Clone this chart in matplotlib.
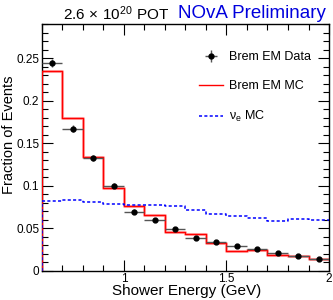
import numpy as np
import matplotlib
matplotlib.use("Agg")
import matplotlib.pyplot as plt
from matplotlib.ticker import MultipleLocator

plt.rcParams['font.family'] = ['Liberation Sans', 'DejaVu Sans']
plt.rcParams['mathtext.fontset'] = 'custom'
plt.rcParams['mathtext.rm'] = 'Liberation Sans'
plt.rcParams['mathtext.it'] = 'Liberation Sans:italic'

bin_edges = [0.6, 0.7, 0.8, 0.9, 1.0, 1.1, 1.2, 1.3, 1.4, 1.5, 1.6, 1.7, 1.8, 1.9, 2.0]
data_vals = [0.244, 0.167, 0.133, 0.100, 0.0696, 0.0594, 0.049, 0.039, 0.034,
             0.0295, 0.0256, 0.0212, 0.0173, 0.0138]
data_yerr = [0.005, 0.004, 0.0035, 0.003, 0.0025, 0.0022, 0.002, 0.0018, 0.0017,
             0.0016, 0.0015, 0.0014, 0.0013, 0.0012]
mc_vals = [0.235, 0.179, 0.134, 0.0975, 0.0755, 0.065, 0.045, 0.043, 0.033,
           0.0232, 0.0248, 0.018, 0.0173, 0.0134]
nue_vals = [0.0816, 0.0834, 0.081, 0.079, 0.0775, 0.0775, 0.0765, 0.0708, 0.0672,
            0.0649, 0.0625, 0.059, 0.061, 0.0594]

edges = np.array(bin_edges)
centers = 0.5 * (edges[:-1] + edges[1:])
halfw = 0.5 * np.diff(edges)

fig = plt.figure(figsize=(3.33, 3.0), dpi=100)
ax = fig.add_axes([0.126, 0.0977, 0.862, 0.822])

def step_xy(vals):
    y = np.r_[vals, vals[-1]]
    return edges, y

x, y = step_xy(mc_vals)
ax.step(x, y, where='post', color='#ff8080', lw=2.2, alpha=0.6, zorder=2)
ax.step(x, y, where='post', color='red', lw=1.0, zorder=3, label='Brem EM MC')
ax.plot([edges[0], edges[0]], [0, mc_vals[0]], color='red', lw=1.0, zorder=3)

x2, y2 = step_xy(nue_vals)
ax.step(x2, y2, where='post', color='blue', lw=1.1, ls=(0, (2, 1.5)), zorder=3,
        label=r'ν$_{\mathrm{e}}$ MC')
ax.plot([edges[0], edges[0]], [0, nue_vals[0]], color='blue', lw=1.1,
        ls=(0, (2, 1.5)), zorder=3)

ax.errorbar(centers, data_vals, xerr=halfw, yerr=data_yerr, fmt='o', ms=3.5,
            color='black', ecolor='#555555', elinewidth=1.0, capsize=0, zorder=4,
            label='Brem EM Data')

ax.set_xlim(0.6, 2.0)
ax.set_ylim(0, 0.29)
ax.xaxis.set_minor_locator(MultipleLocator(0.1))
ax.yaxis.set_minor_locator(MultipleLocator(0.01))
ax.set_xticks([1.0, 1.5, 2.0])
ax.set_xticklabels(['1', '1.5', '2'])
ax.set_yticks([0, 0.05, 0.1, 0.15, 0.2, 0.25])
ax.set_yticklabels(['0', '0.05', '0.1', '0.15', '0.2', '0.25'])
ax.tick_params(which='both', direction='in', top=True, right=True, labelsize=8.5, pad=2)
ax.tick_params(which='major', length=8, width=0.8)
ax.tick_params(which='minor', length=4, width=0.8)
for s in ax.spines.values():
    s.set_linewidth(1.0)

fig.text(0.559, 0.03, 'Shower Energy (GeV)', fontsize=11, ha='center', va='center')
fig.text(0.028, 0.55, 'Fraction of Events', fontsize=10.5, ha='center', va='center',
         rotation=90)

h, l = ax.get_legend_handles_labels()
order = [l.index('Brem EM Data'), l.index('Brem EM MC'), l.index(r'ν$_{\mathrm{e}}$ MC')]
leg = ax.legend([h[i] for i in order], [l[i] for i in order], loc='upper right',
                bbox_to_anchor=(0.975, 0.935), frameon=False, fontsize=9,
                labelspacing=1.35, handlelength=1.9, handletextpad=0.45)

fig.text(0.19, 0.955, r'2.6$\,\times\,$10$^{20}$ POT', fontsize=11, color='black',
         va='center', ha='left')
fig.text(0.978, 0.955, 'NOvA Preliminary', fontsize=13.5, color='#0000dd',
         va='center', ha='right')

fig.savefig('out.png', dpi=100)
